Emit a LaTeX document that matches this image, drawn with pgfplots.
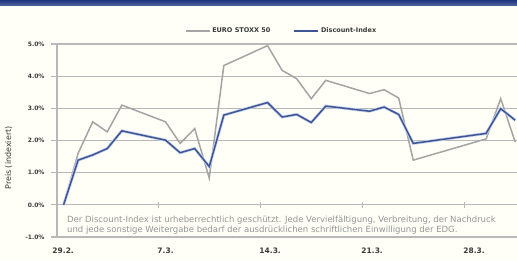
\documentclass[border=0pt]{standalone}
\usepackage{pgfplots}
\pgfplotsset{compat=1.18}
\usepackage{fontspec}
\setmainfont{DejaVu Sans}
\definecolor{bg}{HTML}{FFFFF8}
\definecolor{gridc}{HTML}{B8B8B8}
\definecolor{stoxx}{HTML}{A4A4A4}
\definecolor{disc}{HTML}{3E5494}
\definecolor{discl}{HTML}{C8D4EE}
\definecolor{navy}{HTML}{1E3480}
\definecolor{txt}{HTML}{3A3A3A}
\begin{document}
\begin{tikzpicture}
\fill[bg] (0pt,0pt) rectangle (517pt,260pt);
\path[use as bounding box] (0pt,0pt) rectangle (517pt,260pt);
\shade[top color=navy, bottom color=navy!75!white] (0pt,254pt) rectangle (517pt,260pt);
\begin{axis}[
  at={(57pt,23pt)}, anchor=south west,
  scale only axis, width=460pt, height=193pt,
  xmin=-0.45, xmax=31.12, ymin=-1, ymax=5,
  clip=false,
  axis x line=none,
  axis y line*=left,
  axis line style={gridc, line width=1.2pt, -},
  ymajorgrids, grid style={gridc, line width=1.2pt},
  ytick={-1,0,1,2,3,4,5},
  tick align=outside, major tick length=6pt,
  ytick style={gridc, line width=1.2pt},
  /pgf/number format/assume math mode=true,
  yticklabel={\pgfmathprintnumber[fixed,fixed zerofill,precision=1]{\tick}\%},
  yticklabel style={font=\bfseries\fontsize{6}{7}\selectfont, text=txt, xshift=-3pt},
  legend style={at={(0.488,1)}, anchor=center, yshift=13pt, draw=none, fill=none,
    legend columns=2, font=\bfseries\fontsize{6.5}{8}\selectfont, text=txt,
    /tikz/every even column/.append style={column sep=21pt}},
  legend image code/.code={\draw[#1] (0pt,0pt) -- (24pt,0pt);},
]
\addplot[stoxx, line width=1.5pt] coordinates {
(0,0) (1,1.6) (2,2.58) (3,2.27) (4,3.10) (7,2.58) (8,1.91) (9,2.37) (10,0.83) (11,4.33) (14,4.95) (15,4.18) (16,3.92) (17,3.30) (18,3.87) (21,3.46) (22,3.58) (23,3.32) (24,1.39) (29,2.05) (30,3.30) (31,1.95)};
\addlegendentry{EURO STOXX 50}
\addplot[discl, line width=3pt, forget plot] coordinates {
(0,0) (1,1.39) (2,1.55) (3,1.75) (4,2.30) (7,2.01) (8,1.62) (9,1.75) (10,1.19) (11,2.79) (14,3.18) (15,2.73) (16,2.81) (17,2.56) (18,3.07) (21,2.91) (22,3.04) (23,2.81) (24,1.91) (29,2.22) (30,2.99) (31,2.63)};
\addplot[disc, line width=1.5pt] coordinates {
(0,0) (1,1.39) (2,1.55) (3,1.75) (4,2.30) (7,2.01) (8,1.62) (9,1.75) (10,1.19) (11,2.79) (14,3.18) (15,2.73) (16,2.81) (17,2.56) (18,3.07) (21,2.91) (22,3.04) (23,2.81) (24,1.91) (29,2.22) (30,2.99) (31,2.63)};
\addlegendentry{Discount-Index}
\foreach \t in {6.5,13.5,20.5,27.5} {
  \edef\temp{\noexpand\draw[gridc, line width=1pt] (axis cs:\t,-0.09) -- (axis cs:\t,0.09);}
  \temp
}
\foreach \t/\l in {6.5/7.3.,13.5/14.3.,20.5/21.3.,27.5/28.3.} {
  \edef\temp{\noexpand\node[anchor=north west, inner sep=0pt, font=\noexpand\bfseries\noexpand\fontsize{7.5}{8}\noexpand\selectfont, text=txt] at (axis cs:\t,-1) [yshift=-11pt, xshift=-1pt] {\l};}
  \temp
}
\node[anchor=north west, inner sep=0pt, font=\bfseries\fontsize{7.5}{8}\selectfont, text=txt] at (axis cs:-0.5,-1) [yshift=-11pt, xshift=-4pt] {29.2.};
\end{axis}
\node[anchor=north west, align=left, text=black!42, font=\fontsize{8.5}{9.5}\selectfont, inner sep=0pt] at (67pt,44pt)
 {Der Discount-Index ist urheberrechtlich geschützt. Jede Vervielfältigung, Verbreitung, der Nachdruck\\
  und jede sonstige Weitergabe bedarf der ausdrücklichen schriftlichen Einwilligung der EDG.};
\node[rotate=90, font=\fontsize{8}{9}\selectfont, text=txt] at (8.5pt,102pt) {Preis (indexiert)};
\end{tikzpicture}
\end{document}
